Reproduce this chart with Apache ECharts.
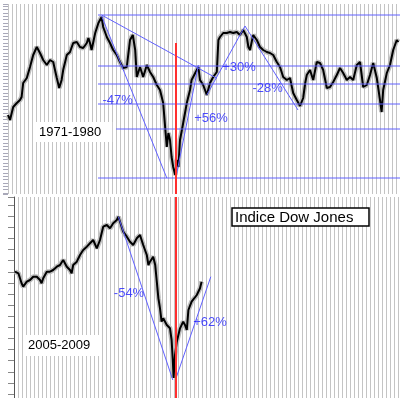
<!DOCTYPE html>
<html>
<head>
<meta charset="utf-8">
<script src="https://cdn.jsdelivr.net/npm/echarts@6/dist/echarts.min.js"></script>
<style>
html, body { margin: 0; padding: 0; background: #fff; }
#chart { width: 400px; height: 398px; }
</style>
</head>
<body>
<div id="chart"></div>
<script>
// Dow Jones 1971-1980, [year, points]
const dow7180 = [
  [1970.9, 764], [1970.95, 749], [1971.03, 788], [1971.12, 800], [1971.2, 809], [1971.24, 818],
  [1971.28, 860], [1971.37, 875], [1971.45, 908], [1971.53, 944], [1971.62, 968], [1971.7, 950],
  [1971.78, 929], [1971.87, 914], [1971.95, 929], [1972.03, 923], [1972.12, 875], [1972.18, 845],
  [1972.24, 869], [1972.28, 899], [1972.37, 944], [1972.45, 953], [1972.53, 980], [1972.62, 983],
  [1972.7, 968], [1972.78, 965], [1972.87, 980], [1972.91, 995], [1972.95, 980], [1972.99, 959],
  [1973.08, 1010], [1973.16, 1040], [1973.24, 1058], [1973.28, 1028], [1973.37, 998], [1973.45, 980],
  [1973.53, 959], [1973.62, 944], [1973.7, 923], [1973.78, 905], [1973.87, 908], [1973.95, 989],
  [1974.02, 1004], [1974.08, 959], [1974.12, 878], [1974.2, 908], [1974.28, 878], [1974.37, 914],
  [1974.45, 893], [1974.53, 878], [1974.62, 854], [1974.7, 839], [1974.78, 800], [1974.83, 725],
  [1974.87, 668], [1974.91, 710], [1974.95, 689], [1974.99, 638], [1975.03, 608], [1975.08, 584],
  [1975.12, 629], [1975.16, 608], [1975.2, 689], [1975.28, 740], [1975.37, 800], [1975.45, 839],
  [1975.49, 869], [1975.58, 890], [1975.66, 908], [1975.7, 869], [1975.78, 854], [1975.87, 824],
  [1975.95, 860], [1976.03, 878], [1976.12, 893], [1976.16, 989], [1976.2, 998], [1976.28, 1010],
  [1976.37, 1010], [1976.45, 1013], [1976.53, 1010], [1976.62, 1013], [1976.7, 1004], [1976.78, 1019],
  [1976.87, 998], [1976.91, 968], [1976.95, 959], [1977.03, 1004], [1977.12, 989], [1977.2, 968],
  [1977.28, 959], [1977.37, 953], [1977.45, 950], [1977.53, 944], [1977.62, 923], [1977.7, 908],
  [1977.78, 878], [1977.87, 869], [1977.95, 875], [1978.03, 830], [1978.12, 809], [1978.2, 791],
  [1978.28, 815], [1978.33, 860], [1978.37, 884], [1978.45, 899], [1978.53, 869], [1978.62, 923],
  [1978.7, 920], [1978.78, 899], [1978.87, 845], [1978.95, 848], [1979.03, 863], [1979.12, 884],
  [1979.2, 905], [1979.28, 890], [1979.37, 869], [1979.45, 878], [1979.53, 869], [1979.62, 914],
  [1979.7, 923], [1979.78, 848], [1979.87, 854], [1979.95, 884], [1980.03, 920], [1980.12, 875],
  [1980.2, 809], [1980.24, 773], [1980.28, 839], [1980.37, 890], [1980.45, 914], [1980.53, 959],
  [1980.62, 989], [1980.66, 983]
];

// Dow Jones 2005-2009, [year, points]
const dow0509 = [
  [2005.225, 11504], [2005.31, 11432], [2005.39, 10982], [2005.43, 10829], [2005.52, 11054],
  [2005.6, 11130], [2005.68, 11279], [2005.77, 11279], [2005.85, 11130], [2005.89, 10982],
  [2005.93, 11207], [2006.02, 11504], [2006.1, 11504], [2006.18, 11580], [2006.27, 11729],
  [2006.35, 11805], [2006.43, 12030], [2006.52, 11729], [2006.6, 11580], [2006.64, 11432],
  [2006.68, 11805], [2006.77, 11954], [2006.85, 12255], [2006.93, 12480], [2007.02, 12629],
  [2007.1, 12782], [2007.18, 12930], [2007.27, 12557], [2007.35, 12930], [2007.43, 13529],
  [2007.52, 13605], [2007.6, 13457], [2007.68, 13682], [2007.77, 13830], [2007.81, 13979],
  [2007.85, 13754], [2007.93, 13304], [2008.02, 13079], [2008.1, 12854], [2008.18, 12705],
  [2008.27, 13006], [2008.35, 13155], [2008.43, 12705], [2008.52, 12255], [2008.56, 11805],
  [2008.6, 11954], [2008.68, 12179], [2008.73, 11805], [2008.77, 11054], [2008.81, 10306],
  [2008.85, 9857], [2008.89, 9254], [2008.93, 9406], [2009.02, 9105], [2009.1, 8956],
  [2009.14, 8430], [2009.17, 7530], [2009.19, 6720], [2009.225, 7750], [2009.27, 8354],
  [2009.31, 8655], [2009.35, 8956], [2009.39, 9029], [2009.43, 9254], [2009.475, 9105],
  [2009.52, 8880], [2009.56, 9780], [2009.64, 10154], [2009.77, 10455], [2009.85, 10757],
  [2009.89, 11054]
];

// support / resistance levels (1971-1980)
const levels7180 = [1064, 911, 857, 797, 722, 575];
const levelFrom7180 = [1973.15, 1973.15, 1973.15, 1973.15, 1973.6, 1973.15];
const levelTo7180 = 1980.7;

// trend segments [x1, y1, x2, y2]
const trends7180 = [
  [1973.24, 1064, 1976.12, 874],
  [1973.24, 1061, 1974.87, 575],
  [1975.1, 578, 1975.66, 914],
  [1975.87, 824, 1976.825, 1031],
  [1976.825, 1031, 1978.15, 779]
];
const trends0509 = [
  [2007.81, 13979, 2009.17, 6630],
  [2009.25, 6706, 2010.12, 11279]
];

// percentage labels
const pctText7180 = ['-47%', '+56%', '+30%', '-28%'];
const pctAt7180 = [[1973.64, 809], [1975.975, 755], [1976.675, 908], [1977.39, 845]];
const pctText0509 = ['-54%', '+62%'];
const pctAt0509 = [[2008.075, 10545], [2010.1, 9209]];

// red marker (Dec 1974 / Mar 2009 lows): [x, from, x, to]
const redTop = [1975.1, 980, 1975.1, 527];
const redBottom = [2009.25, 14865, 2009.25, 5820];

const FONT = 'Liberation Sans, Arial, sans-serif';
const BLUE_LINE = '#6060ff';
const BLUE_TEXT = '#2020ff';
const RED = '#ff3030';

const chart = echarts.init(document.getElementById('chart'));

function segSeries(idx, s, color, width) {
  return {
    type: 'line', xAxisIndex: idx, yAxisIndex: idx,
    data: [[s[0], s[1]], [s[2], s[3]]],
    showSymbol: false, silent: true, animation: false, clip: false, z: 5,
    lineStyle: { color: color, width: width || 1 }
  };
}

function priceSeries(data, idx) {
  return [
    {
      type: 'line', xAxisIndex: idx, yAxisIndex: idx, data: data,
      showSymbol: false, silent: true, animation: false,
      lineStyle: { color: '#bdbdbd', width: 5 }, z: 3
    },
    {
      type: 'line', xAxisIndex: idx, yAxisIndex: idx, data: data,
      showSymbol: false, silent: true, animation: false,
      lineStyle: { color: '#000', width: 2 }, z: 4
    }
  ];
}

function pctSeries(idx, texts, at) {
  return {
    type: 'scatter', xAxisIndex: idx, yAxisIndex: idx, silent: true, animation: false, z: 6,
    symbolSize: 0,
    data: texts.map((t, i) => ({ name: t, value: at[i] })),
    label: {
      show: true, position: 'inside', formatter: '{b}',
      color: BLUE_TEXT, fontSize: 13, fontFamily: FONT
    }
  };
}

const topSegs = levels7180.map((v, i) => [levelFrom7180[i], v, levelTo7180, v]).concat(trends7180);

const gridX = {
  splitLine: { show: true, lineStyle: { color: '#c4c4c4', width: 1 } },
  axisLine: { show: false }, axisTick: { show: false }, axisLabel: { show: false }
};

const option = {
  backgroundColor: '#fff',
  animation: false,
  title: [
    {
      text: '1971-1980', left: 35, top: 122, padding: [4, 11, 3, 4],
      backgroundColor: '#fff',
      textStyle: { fontSize: 13, fontWeight: 'normal', color: '#000', fontFamily: FONT }
    },
    {
      text: '2005-2009', left: 23, top: 335, padding: [4, 10, 4, 5],
      backgroundColor: '#fff',
      textStyle: { fontSize: 13, fontWeight: 'normal', color: '#000', fontFamily: FONT }
    },
    {
      text: 'Indice Dow Jones', left: 232, top: 208, padding: [2, 16, 1, 3],
      backgroundColor: '#fff', borderColor: '#000', borderWidth: 1.5,
      textStyle: { fontSize: 15, fontWeight: 'normal', color: '#000', fontFamily: FONT }
    }
  ],
  grid: [
    { left: 8, right: 0, top: 4, height: 190 },
    { left: 14, right: 0, top: 197, height: 201 }
  ],
  xAxis: [
    Object.assign({ type: 'value', gridIndex: 0, min: 1970.9, max: 1980.7, interval: 0.1 }, gridX),
    Object.assign({ type: 'value', gridIndex: 1, min: 2005.2, max: 2014.85, interval: 0.1 }, gridX)
  ],
  yAxis: [
    {
      type: 'value', gridIndex: 0, min: 527, max: 1097, splitNumber: 55,
      splitLine: { show: false }, axisLine: { show: false },
      axisTick: { show: true, length: 5, lineStyle: { color: '#a8a8b8' } },
      axisLabel: { show: false }
    },
    {
      type: 'value', gridIndex: 1, min: 5820, max: 14865, splitNumber: 14,
      splitLine: { show: false },
      axisLine: { show: true, lineStyle: { color: '#555', width: 1 } },
      axisTick: { show: true, length: 6, lineStyle: { color: '#888' } },
      axisLabel: { show: false }
    }
  ],
  series: priceSeries(dow7180, 0)
    .concat(priceSeries(dow0509, 1))
    .concat(topSegs.map(s => segSeries(0, s, BLUE_LINE)))
    .concat(trends0509.map(s => segSeries(1, s, BLUE_LINE)))
    .concat([
      segSeries(0, redTop, RED, 2),
      segSeries(1, redBottom, RED, 2),
      pctSeries(0, pctText7180, pctAt7180),
      pctSeries(1, pctText0509, pctAt0509)
    ])
};

chart.setOption(option);
</script>
</body>
</html>
